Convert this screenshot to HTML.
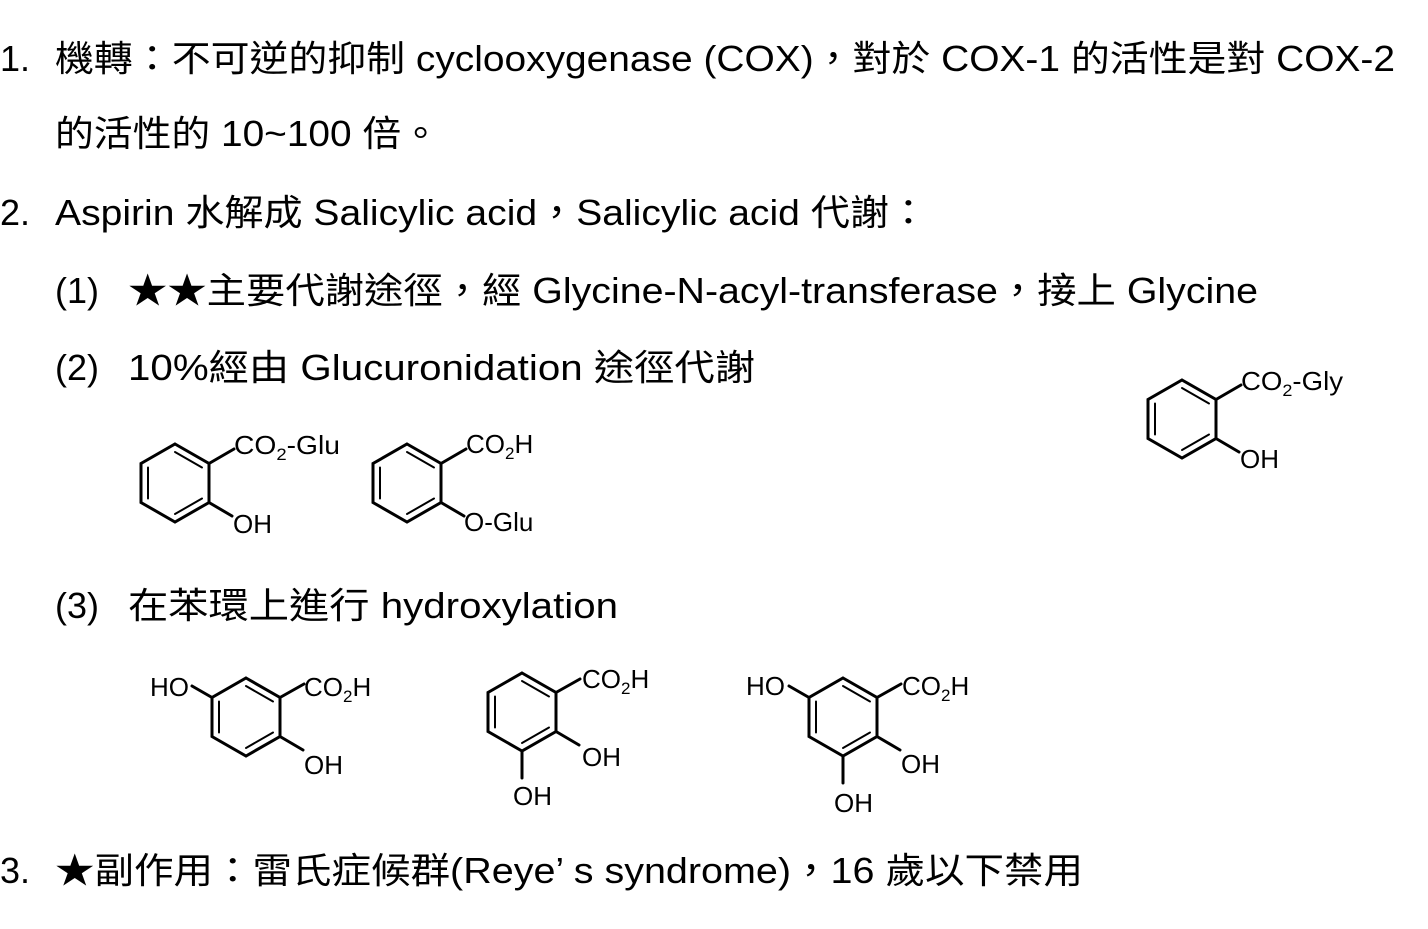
<!DOCTYPE html>
<html><head><meta charset="utf-8"><style>
html,body{margin:0;padding:0;background:#fff;}
svg{display:block;}
.t{font-family:"Liberation Sans","Noto Sans CJK TC",sans-serif;font-size:36px;fill:#000;}
.c{font-family:"Liberation Sans",sans-serif;font-size:26px;fill:#000;}
.s{font-size:17px;}
</style></head><body>
<svg width="1428" height="929" viewBox="0 0 1428 929">
<g class="t">
<text x="0" y="71">1.</text>
<text x="55" y="71" textLength="1340" lengthAdjust="spacingAndGlyphs">機轉：不可逆的抑制 cyclooxygenase (COX)，對於 COX-1 的活性是對 COX-2</text>
<text x="55" y="146" textLength="385" lengthAdjust="spacingAndGlyphs">的活性的 10~100 倍。</text>
<text x="0" y="225">2.</text>
<text x="55" y="225" textLength="873" lengthAdjust="spacingAndGlyphs">Aspirin 水解成 Salicylic acid，Salicylic acid 代謝：</text>
<text x="55" y="303">(1)</text>
<text x="128" y="303" textLength="1130" lengthAdjust="spacingAndGlyphs">★★主要代謝途徑，經 Glycine-N-acyl-transferase，接上 Glycine</text>
<text x="55" y="380">(2)</text>
<text x="128" y="380" textLength="627" lengthAdjust="spacingAndGlyphs">10%經由 Glucuronidation 途徑代謝</text>
<text x="55" y="618">(3)</text>
<text x="128" y="618" textLength="490" lengthAdjust="spacingAndGlyphs">在苯環上進行 hydroxylation</text>
<text x="0" y="883">3.</text>
<text x="55" y="883" textLength="1028" lengthAdjust="spacingAndGlyphs">★副作用：雷氏症候群(Reye’ s syndrome)，16 歲以下禁用</text>
</g>
<g stroke="#000" stroke-width="3" fill="none" stroke-linecap="round">
<polygon points="175,444 209,463.5 209,502.5 175,522 141,502.5 141,463.5"/>
<line x1="175" y1="452" x2="202" y2="467.5" stroke-width="2"/>
<line x1="202" y1="498.5" x2="175" y2="514" stroke-width="2"/>
<line x1="148" y1="467.5" x2="148" y2="498.5" stroke-width="2"/>
<line x1="209" y1="463.5" x2="234" y2="449"/>
<line x1="209" y1="502.5" x2="232" y2="516"/>
<polygon points="407,444 441,463.5 441,502.5 407,522 373,502.5 373,463.5"/>
<line x1="407" y1="452" x2="434" y2="467.5" stroke-width="2"/>
<line x1="434" y1="498.5" x2="407" y2="514" stroke-width="2"/>
<line x1="380" y1="467.5" x2="380" y2="498.5" stroke-width="2"/>
<line x1="441" y1="463.5" x2="466" y2="449"/>
<line x1="441" y1="502.5" x2="464" y2="516"/>
<polygon points="1182,380 1216,399.5 1216,438.5 1182,458 1148,438.5 1148,399.5"/>
<line x1="1182" y1="388" x2="1209" y2="403.5" stroke-width="2"/>
<line x1="1209" y1="434.5" x2="1182" y2="450" stroke-width="2"/>
<line x1="1155" y1="403.5" x2="1155" y2="434.5" stroke-width="2"/>
<line x1="1216" y1="399.5" x2="1241" y2="385"/>
<line x1="1216" y1="438.5" x2="1239" y2="452"/>
<polygon points="246,678 280,697.5 280,736.5 246,756 212,736.5 212,697.5"/>
<line x1="246" y1="686" x2="273" y2="701.5" stroke-width="2"/>
<line x1="273" y1="732.5" x2="246" y2="748" stroke-width="2"/>
<line x1="219" y1="701.5" x2="219" y2="732.5" stroke-width="2"/>
<line x1="280" y1="697.5" x2="304" y2="684"/>
<line x1="280" y1="736.5" x2="303" y2="750"/>
<line x1="212" y1="697.5" x2="192" y2="686"/>
<polygon points="522,673 556,692.5 556,731.5 522,751 488,731.5 488,692.5"/>
<line x1="522" y1="681" x2="549" y2="696.5" stroke-width="2"/>
<line x1="549" y1="727.5" x2="522" y2="743" stroke-width="2"/>
<line x1="495" y1="696.5" x2="495" y2="727.5" stroke-width="2"/>
<line x1="556" y1="692.5" x2="580" y2="679"/>
<line x1="556" y1="731.5" x2="579" y2="745"/>
<line x1="522" y1="751" x2="522" y2="778"/>
<polygon points="843,678 877,697.5 877,736.5 843,756 809,736.5 809,697.5"/>
<line x1="843" y1="686" x2="870" y2="701.5" stroke-width="2"/>
<line x1="870" y1="732.5" x2="843" y2="748" stroke-width="2"/>
<line x1="816" y1="701.5" x2="816" y2="732.5" stroke-width="2"/>
<line x1="877" y1="697.5" x2="901" y2="684"/>
<line x1="877" y1="736.5" x2="900" y2="750"/>
<line x1="809" y1="697.5" x2="789" y2="686"/>
<line x1="843" y1="756" x2="843" y2="783"/>
</g>
<g class="c">
<text x="234" y="454" textLength="106" lengthAdjust="spacingAndGlyphs">CO<tspan class="s" dy="6">2</tspan><tspan dy="-6">-Glu</tspan></text>
<text x="233" y="533">OH</text>
<text x="466" y="453">CO<tspan class="s" dy="6">2</tspan><tspan dy="-6">H</tspan></text>
<text x="464" y="531">O-Glu</text>
<text x="1241" y="390" textLength="102" lengthAdjust="spacingAndGlyphs">CO<tspan class="s" dy="6">2</tspan><tspan dy="-6">-Gly</tspan></text>
<text x="1240" y="468">OH</text>
<text x="150" y="696">HO</text>
<text x="304" y="696">CO<tspan class="s" dy="6">2</tspan><tspan dy="-6">H</tspan></text>
<text x="304" y="774">OH</text>
<text x="582" y="688">CO<tspan class="s" dy="6">2</tspan><tspan dy="-6">H</tspan></text>
<text x="582" y="766">OH</text>
<text x="513" y="805">OH</text>
<text x="746" y="695">HO</text>
<text x="902" y="695">CO<tspan class="s" dy="6">2</tspan><tspan dy="-6">H</tspan></text>
<text x="901" y="773">OH</text>
<text x="834" y="812">OH</text>
</g>
</svg>
</body></html>
